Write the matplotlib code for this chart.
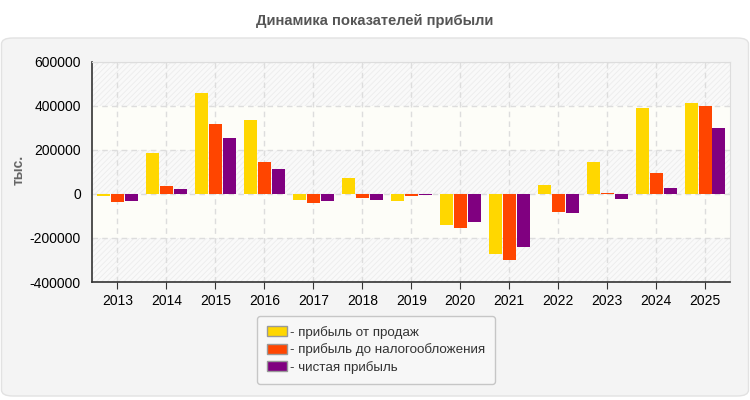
import numpy as np
import matplotlib.pyplot as plt
from matplotlib.patches import FancyBboxPatch

plt.rcParams['font.family'] = ['Liberation Sans', 'DejaVu Sans']
plt.rcParams['hatch.linewidth'] = 0.6
plt.rcParams['hatch.color'] = '#ececec'

years = ['2013', '2014', '2015', '2016', '2017', '2018', '2019',
         '2020', '2021', '2022', '2023', '2024', '2025']
sales_profit = [-8000, 186000, 459000, 336000, -27000, 73000, -32000,
                -141000, -273000, 41000, 145000, 391000, 414000]
pretax_profit = [-37000, 36000, 318000, 145000, -41000, -18000, -9000,
                 -155000, -300000, -82000, 5000, 95000, 400000]
net_profit = [-32000, 23000, 255000, 113000, -32000, -27000, -3000,
              -127000, -241000, -86000, -23000, 27000, 300000]
series_names = ['- прибыль от продаж', '- прибыль до налогообложения', '- чистая прибыль']
colors = ['#FFD700', '#FF4500', '#800080']

fig = plt.figure(figsize=(7.5, 4), dpi=100)
fig.patch.set_facecolor('white')

# outer gray panel
panel = FancyBboxPatch((0.002, 0.01), 0.996, 0.895, boxstyle='round,pad=0,rounding_size=0.015',
                       transform=fig.transFigure, facecolor='#f4f4f4', edgecolor='#e2e2e2',
                       linewidth=1, zorder=-5)
fig.patches.append(panel)

fig.text(0.5, 0.948, 'Динамика показателей прибыли', ha='center', va='center',
         fontsize=10.6, fontweight='bold', color='#555555')

ax = fig.add_axes([92 / 750, 1 - 282 / 400, (730 - 92) / 750, 220 / 400])
ax.set_zorder(2)
ax.set_facecolor('#fdfdf8')

# alternating hatched bands
for lo in (400000, 0, -400000):
    ax.axhspan(lo, lo + 200000, facecolor='#f9f9f9', hatch='//////', edgecolor='#ececec',
               linewidth=0, zorder=0)

x = np.arange(len(years))
w = 0.265
step = 0.285
for i, (vals, c, name) in enumerate(zip([sales_profit, pretax_profit, net_profit], colors, series_names)):
    ax.bar(x + (i - 1) * step, vals, width=w, color=c, label=name, zorder=3, linewidth=0)

ax.set_xlim(-0.52, 12.51)
ax.set_ylim(-400000, 600000)
ax.set_yticks(np.arange(-400000, 600001, 200000))
ax.set_yticklabels([str(v) for v in range(-400000, 600001, 200000)])
ax.set_xticks(x)
ax.set_xticklabels(years)
ax.tick_params(axis='both', labelsize=10, colors='#333333', labelcolor='black', length=5)
ax.tick_params(axis='y', length=0, pad=8)
ax.grid(True, color='#dddddd', linestyle=(0, (4, 3)), linewidth=1, zorder=1)
ax.set_axisbelow(True)

for s in ('top', 'right'):
    ax.spines[s].set_color('#dddddd')
for s in ('left', 'bottom'):
    ax.spines[s].set_color('#333333')
    ax.spines[s].set_linewidth(1.2)

fig.text(0.025, 1 - 170 / 400, 'тыс.', rotation=90, ha='center', va='center',
         fontsize=10, fontweight='bold', color='#666666')

leg = fig.legend(loc='upper left', bbox_to_anchor=(257 / 750, 1 - 316 / 400),
                 fontsize=9.6, frameon=True, handlelength=1.5, handleheight=0.8,
                 handletextpad=0.2, labelspacing=0.33, borderpad=0.75, borderaxespad=0,
                 fancybox=True)
leg.set_zorder(3)
leg.get_frame().set_facecolor('#f9f9f9')
leg.get_frame().set_edgecolor('#bbbbbb')
for h in leg.legend_handles:
    h.set_edgecolor('#999999')
    h.set_linewidth(1)
for t in leg.get_texts():
    t.set_color('#333333')

fig.savefig('out.png', dpi=100)
